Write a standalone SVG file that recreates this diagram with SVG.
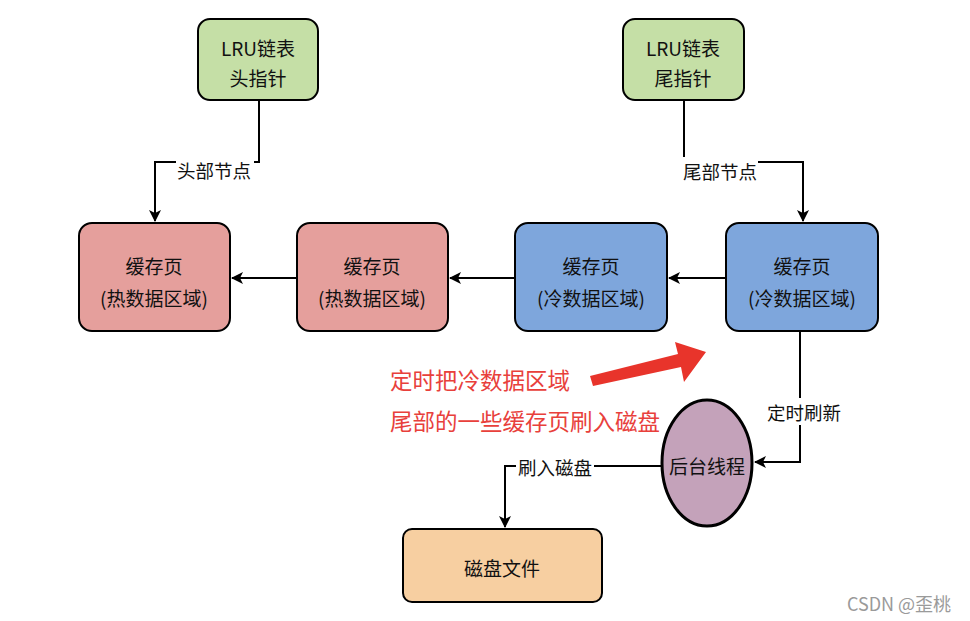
<svg xmlns="http://www.w3.org/2000/svg" width="970" height="621" viewBox="0 0 970 621">
<defs>
<marker id="arr" markerWidth="12" markerHeight="12" viewBox="0 0 12 12" refX="11" refY="6" orient="auto" markerUnits="userSpaceOnUse">
<path d="M0,0 L12,6 L0,12 L3,6 Z" fill="#000"/>
</marker>
<style>
text{font-family:"Noto Sans CJK SC","Noto Sans",sans-serif;fill:#111;text-anchor:middle;dominant-baseline:central}
.box{stroke:#000;stroke-width:2}
.g{fill:#C5DFA6}.r{fill:#E59F9C}.b{fill:#7EA6DC}.o{fill:#F7CFA1}
.t{font-size:19px}.tl{font-size:18.5px}
.c{fill:none;stroke:#000;stroke-width:2;marker-end:url(#arr)}
.bg{fill:#fff}
</style>
</defs>
<rect width="970" height="621" fill="#fff"/>
<g id="connectors">
<path class="c" d="M259,100 V162 H155 V221"/>
<path class="c" d="M684,100 V162 H803 V221"/>
<path class="c" d="M297,278 H232"/>
<path class="c" d="M515,278 H450"/>
<path class="c" d="M726,278 H669"/>
<path class="c" d="M800,332 V462 H755"/>
<path class="c" d="M662,466 H505 V527"/>
<rect class="bg" x="176" y="157" width="78" height="27"/>
<text class="tl" x="214" y="170">头部节点</text>
<rect class="bg" x="682" y="157" width="76" height="28"/>
<text class="tl" x="720" y="171">尾部节点</text>
<rect class="bg" x="765" y="398" width="78" height="27"/>
<text class="tl" x="804" y="412">定时刷新</text>
<rect class="bg" x="516" y="454" width="78" height="26"/>
<text class="tl" x="555" y="467">刷入磁盘</text>
</g>
<g id="lru-head">
<rect class="box g" x="198" y="19" width="120" height="81" rx="12"/>
<text class="t" x="258" y="47">LRU链表</text>
<text class="t" x="258" y="77">头指针</text>
</g>
<g id="lru-tail">
<rect class="box g" x="623" y="19" width="121" height="81" rx="12"/>
<text class="t" x="683" y="47">LRU链表</text>
<text class="t" x="683" y="77">尾指针</text>
</g>
<g id="page1">
<rect class="box r" x="79" y="223" width="151" height="108" rx="13"/>
<text class="t" x="154" y="265">缓存页</text>
<text class="t" x="154" y="297">(热数据区域)</text>
</g>
<g id="page2">
<rect class="box r" x="297" y="223" width="151" height="108" rx="13"/>
<text class="t" x="372" y="265">缓存页</text>
<text class="t" x="372" y="297">(热数据区域)</text>
</g>
<g id="page3">
<rect class="box b" x="515" y="223" width="152" height="108" rx="13"/>
<text class="t" x="591" y="265">缓存页</text>
<text class="t" x="591" y="297">(冷数据区域)</text>
</g>
<g id="page4">
<rect class="box b" x="726" y="223" width="152" height="108" rx="13"/>
<text class="t" x="802" y="265">缓存页</text>
<text class="t" x="802" y="297">(冷数据区域)</text>
</g>
<g id="thread">
<ellipse cx="707" cy="463" rx="45" ry="63" fill="#C4A2BA" stroke="#000" stroke-width="3"/>
<text class="t" x="707" y="465">后台线程</text>
</g>
<g id="diskfile">
<rect class="box o" x="403" y="529" width="199" height="73" rx="9"/>
<text class="t" x="502" y="567">磁盘文件</text>
</g>
<g id="note">
<text x="390" y="379" style="font-size:22.5px;fill:#E8403B;text-anchor:start">定时把冷数据区域</text>
<text x="390" y="420" style="font-size:22.5px;fill:#E8403B;text-anchor:start">尾部的一些缓存页刷入磁盘</text>
<path d="M590,376 L678,354 L675,342 L706,352 L684,382 L681,367 L593,386 Z" fill="#E8342B"/>
</g>
<text x="899" y="603" style="font-size:18px;fill:#9a9a9a">CSDN @歪桃</text>
</svg>
